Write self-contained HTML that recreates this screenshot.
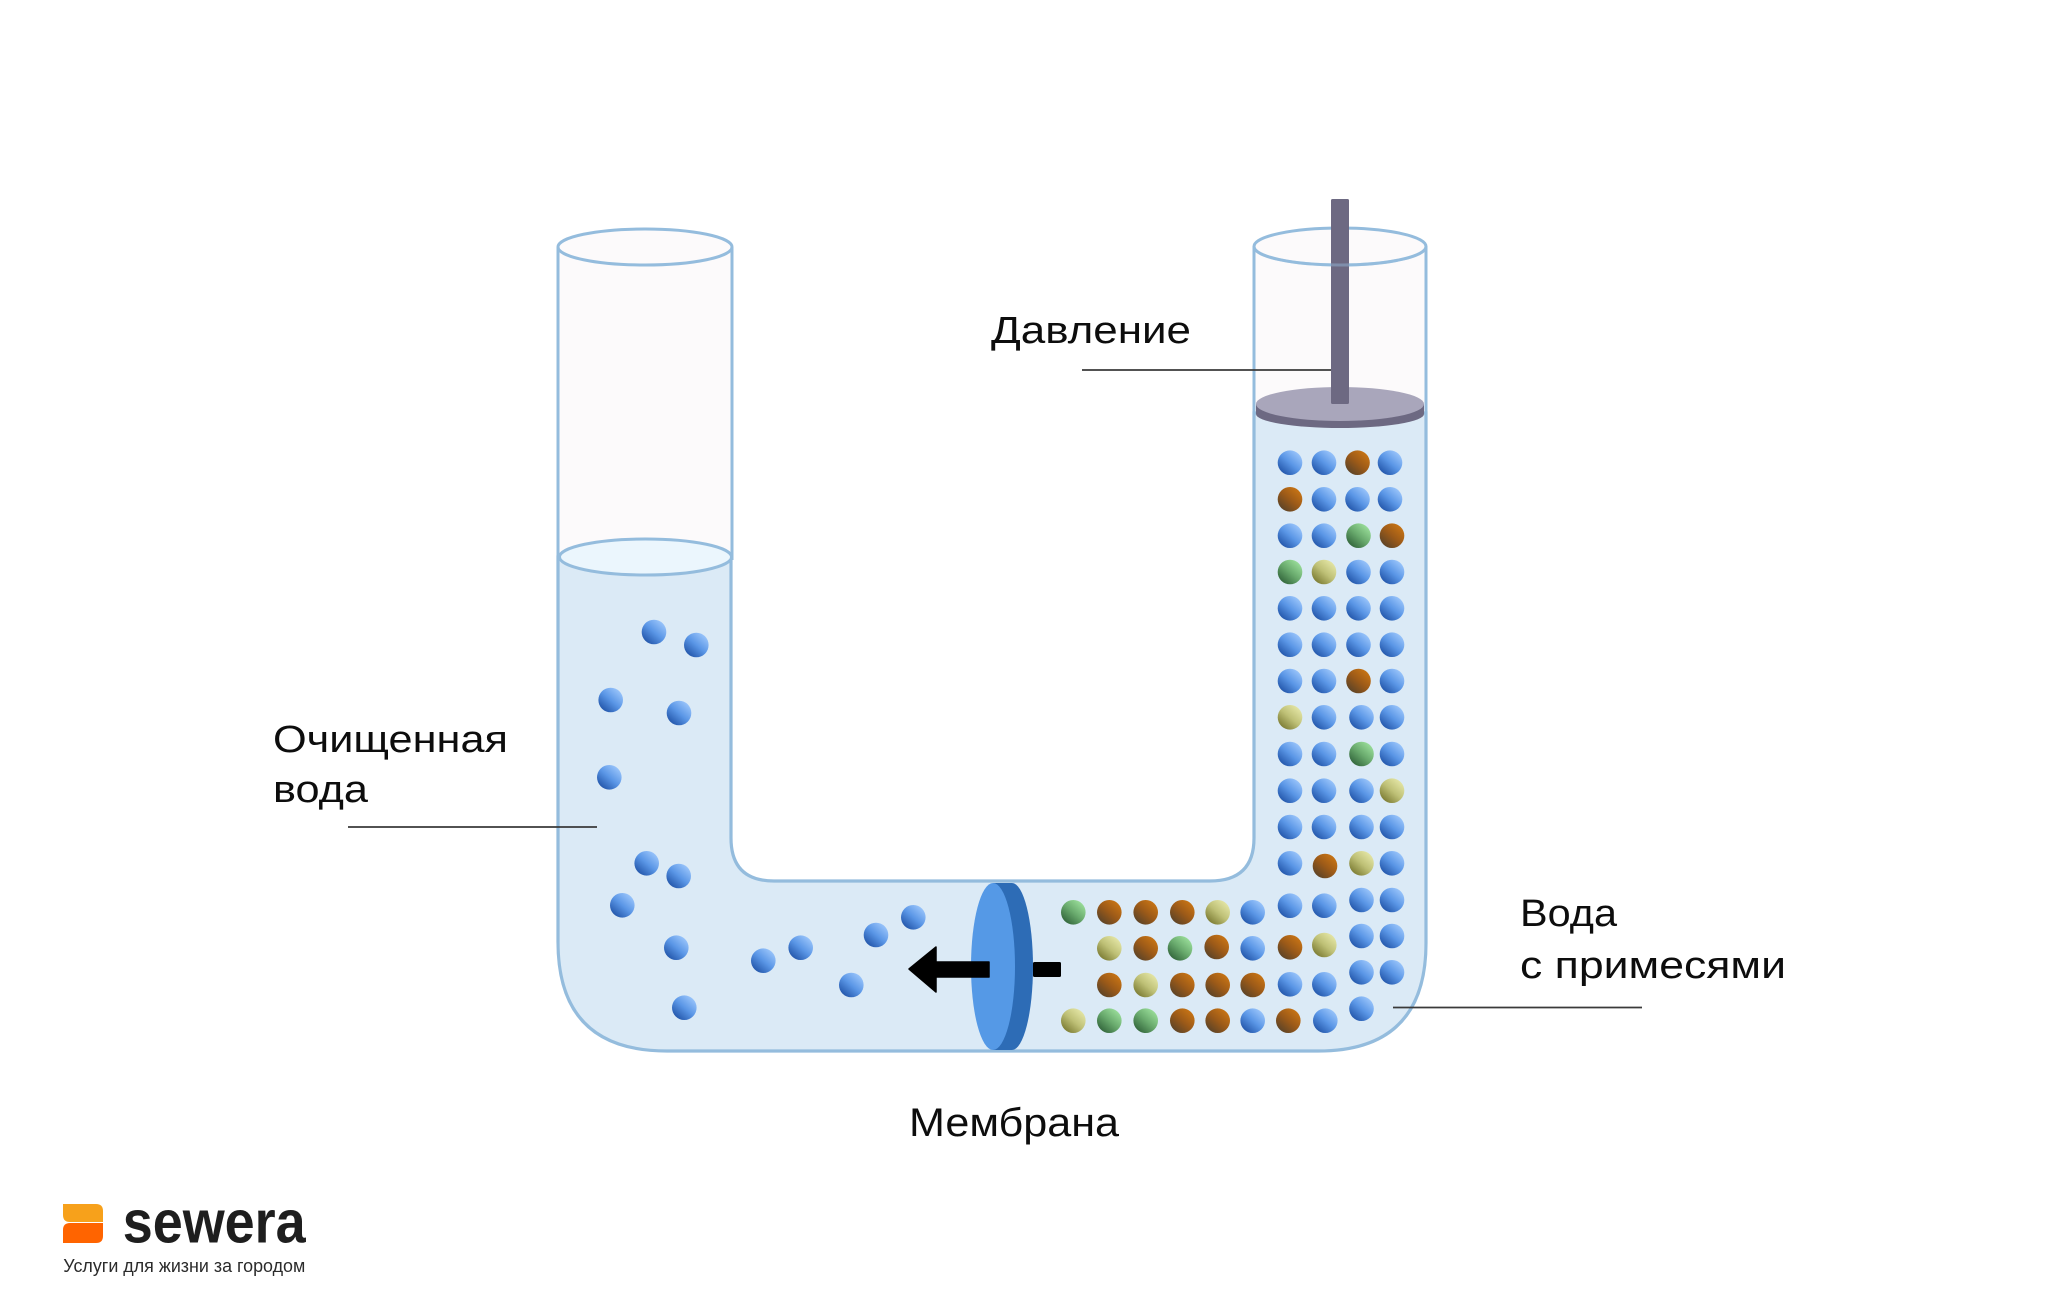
<!DOCTYPE html>
<html><head><meta charset="utf-8"><style>
html,body{margin:0;padding:0;background:#fff;}
svg{display:block;}
text{font-family:"Liberation Sans","DejaVu Sans",sans-serif;}
</style></head><body>
<svg width="2048" height="1316" viewBox="0 0 2048 1316" xmlns="http://www.w3.org/2000/svg">
<defs>
<linearGradient id="b" x1="0.85" y1="0.1" x2="0.15" y2="0.9"><stop offset="0" stop-color="#9ac5fb"/><stop offset="0.5" stop-color="#5a96e6"/><stop offset="1" stop-color="#2356aa"/></linearGradient>
<linearGradient id="o" x1="0.85" y1="0.1" x2="0.15" y2="0.9"><stop offset="0" stop-color="#c87414"/><stop offset="0.5" stop-color="#9c5a18"/><stop offset="1" stop-color="#5c4428"/></linearGradient>
<linearGradient id="g" x1="0.85" y1="0.1" x2="0.15" y2="0.9"><stop offset="0" stop-color="#9ade9a"/><stop offset="0.5" stop-color="#69aa6d"/><stop offset="1" stop-color="#33663c"/></linearGradient>
<linearGradient id="y" x1="0.85" y1="0.1" x2="0.15" y2="0.9"><stop offset="0" stop-color="#e4e6a6"/><stop offset="0.5" stop-color="#bec076"/><stop offset="1" stop-color="#7c7c34"/></linearGradient>
</defs>
<rect width="2048" height="1316" fill="#fff"/>

<!-- left tube dry part -->
<rect x="558" y="247" width="174" height="312" fill="#fcfafb"/>
<ellipse cx="645" cy="247" rx="87" ry="18" fill="#fcfafb" stroke="#94bcdd" stroke-width="3"/>
<line x1="558" y1="247" x2="558" y2="560" stroke="#94bcdd" stroke-width="3"/>
<line x1="732" y1="247" x2="732" y2="560" stroke="#94bcdd" stroke-width="3"/>

<!-- right tube dry part -->
<rect x="1254" y="246" width="172" height="170" fill="#fcfafb"/>
<ellipse cx="1340" cy="246.5" rx="86" ry="18.5" fill="#fcfafb" stroke="#94bcdd" stroke-width="3"/>
<line x1="1254" y1="246" x2="1254" y2="416" stroke="#94bcdd" stroke-width="3"/>
<line x1="1426" y1="246" x2="1426" y2="416" stroke="#94bcdd" stroke-width="3"/>

<!-- water U -->
<path d="M558 557 L558 942 Q558 1051 667 1051 L1318 1051 Q1426 1051 1426 943 L1426 413 L1254 413 L1254 838 Q1254 881 1210 881 L774 881 Q731 881 731 838 L731 557 Z" fill="#dbeaf6" stroke="#94bcdd" stroke-width="3.2"/>

<!-- left water surface -->
<ellipse cx="645.5" cy="557" rx="86" ry="18" fill="#ebf6fd" stroke="#94bcdd" stroke-width="3"/>

<!-- piston -->
<ellipse cx="1340" cy="414" rx="84" ry="14" fill="#6d6982"/>
<rect x="1256" y="404" width="168" height="10" fill="#6d6982"/>
<ellipse cx="1340" cy="404" rx="84" ry="17" fill="#a9a6bb"/>
<rect x="1331" y="199" width="18" height="205" rx="1.5" fill="#6d6982"/>
<path d="M1254 246.5 A86 18.5 0 0 0 1426 246.5" fill="none" stroke="#94bcdd" stroke-width="3" stroke-opacity="0.45"/>

<!-- membrane -->
<ellipse cx="1012" cy="966.5" rx="21" ry="83.5" fill="#2d6cb6"/>
<rect x="993" y="883" width="19" height="167" fill="#2d6cb6"/>
<ellipse cx="993" cy="966.5" rx="22" ry="83.5" fill="#5599e6"/>

<!-- arrow -->
<path d="M989 962 L936 962 L936 947 L909 969 L936 992 L936 977 L989 977 Z" fill="#000" stroke="#000" stroke-width="1.5" stroke-linejoin="round"/>
<rect x="1033" y="962" width="28" height="15" rx="1.5" fill="#000"/>

<!-- left balls -->
<g fill="url(#b)">
<circle cx="654" cy="632" r="12.3"/><circle cx="696.3" cy="645" r="12.3"/><circle cx="610.7" cy="700" r="12.3"/><circle cx="679" cy="713" r="12.3"/><circle cx="609.3" cy="777.3" r="12.3"/>
<circle cx="646.7" cy="863.3" r="12.3"/><circle cx="678.7" cy="876" r="12.3"/><circle cx="622.3" cy="905.3" r="12.3"/><circle cx="676.3" cy="947.7" r="12.3"/><circle cx="684.3" cy="1007.7" r="12.3"/>
<circle cx="763.3" cy="960.7" r="12.3"/><circle cx="800.7" cy="947.7" r="12.3"/><circle cx="876" cy="935" r="12.3"/><circle cx="913.3" cy="917.3" r="12.3"/><circle cx="851.3" cy="985" r="12.3"/>
</g>

<!-- right column -->
<g>
<circle cx="1290" cy="462.7" r="12.3" fill="url(#b)"/><circle cx="1324" cy="462.7" r="12.3" fill="url(#b)"/><circle cx="1357.5" cy="462.7" r="12.3" fill="url(#o)"/><circle cx="1390" cy="462.7" r="12.3" fill="url(#b)"/>
<circle cx="1290" cy="499.3" r="12.3" fill="url(#o)"/><circle cx="1324" cy="499.3" r="12.3" fill="url(#b)"/><circle cx="1357.5" cy="499.3" r="12.3" fill="url(#b)"/><circle cx="1390" cy="499.3" r="12.3" fill="url(#b)"/>
<circle cx="1290" cy="535.7" r="12.3" fill="url(#b)"/><circle cx="1324" cy="535.7" r="12.3" fill="url(#b)"/><circle cx="1358.5" cy="535.7" r="12.3" fill="url(#g)"/><circle cx="1392" cy="535.7" r="12.3" fill="url(#o)"/>
<circle cx="1290" cy="572" r="12.3" fill="url(#g)"/><circle cx="1324" cy="572" r="12.3" fill="url(#y)"/><circle cx="1358.5" cy="572" r="12.3" fill="url(#b)"/><circle cx="1392" cy="572" r="12.3" fill="url(#b)"/>
<circle cx="1290" cy="608.3" r="12.3" fill="url(#b)"/><circle cx="1324" cy="608.3" r="12.3" fill="url(#b)"/><circle cx="1358.5" cy="608.3" r="12.3" fill="url(#b)"/><circle cx="1392" cy="608.3" r="12.3" fill="url(#b)"/>
<circle cx="1290" cy="644.7" r="12.3" fill="url(#b)"/><circle cx="1324" cy="644.7" r="12.3" fill="url(#b)"/><circle cx="1358.5" cy="644.7" r="12.3" fill="url(#b)"/><circle cx="1392" cy="644.7" r="12.3" fill="url(#b)"/>
<circle cx="1290" cy="681" r="12.3" fill="url(#b)"/><circle cx="1324" cy="681" r="12.3" fill="url(#b)"/><circle cx="1358.5" cy="681" r="12.3" fill="url(#o)"/><circle cx="1392" cy="681" r="12.3" fill="url(#b)"/>
<circle cx="1290" cy="717.3" r="12.3" fill="url(#y)"/><circle cx="1324" cy="717.3" r="12.3" fill="url(#b)"/><circle cx="1361.5" cy="717.3" r="12.3" fill="url(#b)"/><circle cx="1392" cy="717.3" r="12.3" fill="url(#b)"/>
<circle cx="1290" cy="754" r="12.3" fill="url(#b)"/><circle cx="1324" cy="754" r="12.3" fill="url(#b)"/><circle cx="1361.5" cy="754" r="12.3" fill="url(#g)"/><circle cx="1392" cy="754" r="12.3" fill="url(#b)"/>
<circle cx="1290" cy="790.7" r="12.3" fill="url(#b)"/><circle cx="1324" cy="790.7" r="12.3" fill="url(#b)"/><circle cx="1361.5" cy="790.7" r="12.3" fill="url(#b)"/><circle cx="1392" cy="790.7" r="12.3" fill="url(#y)"/>
<circle cx="1290" cy="827" r="12.3" fill="url(#b)"/><circle cx="1324" cy="827" r="12.3" fill="url(#b)"/><circle cx="1361.5" cy="827" r="12.3" fill="url(#b)"/><circle cx="1392" cy="827" r="12.3" fill="url(#b)"/>
<circle cx="1290" cy="863.3" r="12.3" fill="url(#b)"/><circle cx="1325" cy="866" r="12.3" fill="url(#o)"/><circle cx="1361.5" cy="863.3" r="12.3" fill="url(#y)"/><circle cx="1392" cy="863.3" r="12.3" fill="url(#b)"/>
<circle cx="1361.5" cy="900" r="12.3" fill="url(#b)"/><circle cx="1392" cy="900" r="12.3" fill="url(#b)"/>
<circle cx="1361.5" cy="936" r="12.3" fill="url(#b)"/><circle cx="1392" cy="936" r="12.3" fill="url(#b)"/>
<circle cx="1361.5" cy="972.3" r="12.3" fill="url(#b)"/><circle cx="1392" cy="972.3" r="12.3" fill="url(#b)"/>
<circle cx="1361.5" cy="1008.7" r="12.3" fill="url(#b)"/>
</g>

<!-- horizontal rows -->
<g>
<circle cx="1073.3" cy="912.3" r="12.3" fill="url(#g)"/><circle cx="1109.3" cy="912.3" r="12.3" fill="url(#o)"/><circle cx="1145.7" cy="912.3" r="12.3" fill="url(#o)"/><circle cx="1182.3" cy="912.3" r="12.3" fill="url(#o)"/><circle cx="1217.7" cy="912.3" r="12.3" fill="url(#y)"/><circle cx="1252.7" cy="912.3" r="12.3" fill="url(#b)"/><circle cx="1290" cy="905.7" r="12.3" fill="url(#b)"/><circle cx="1324.3" cy="905.7" r="12.3" fill="url(#b)"/>
<circle cx="1109.3" cy="948.3" r="12.3" fill="url(#y)"/><circle cx="1145.7" cy="948.3" r="12.3" fill="url(#o)"/><circle cx="1180" cy="948.3" r="12.3" fill="url(#g)"/><circle cx="1216.7" cy="947" r="12.3" fill="url(#o)"/><circle cx="1252.7" cy="948.3" r="12.3" fill="url(#b)"/><circle cx="1290" cy="947.3" r="12.3" fill="url(#o)"/><circle cx="1324.3" cy="945" r="12.3" fill="url(#y)"/>
<circle cx="1109.3" cy="985" r="12.3" fill="url(#o)"/><circle cx="1145.7" cy="985" r="12.3" fill="url(#y)"/><circle cx="1182.3" cy="985" r="12.3" fill="url(#o)"/><circle cx="1217.7" cy="985" r="12.3" fill="url(#o)"/><circle cx="1252.7" cy="985" r="12.3" fill="url(#o)"/><circle cx="1290" cy="984.3" r="12.3" fill="url(#b)"/><circle cx="1324.3" cy="984.3" r="12.3" fill="url(#b)"/>
<circle cx="1073.3" cy="1020.7" r="12.3" fill="url(#y)"/><circle cx="1109.3" cy="1020.7" r="12.3" fill="url(#g)"/><circle cx="1145.7" cy="1020.7" r="12.3" fill="url(#g)"/><circle cx="1182.3" cy="1020.7" r="12.3" fill="url(#o)"/><circle cx="1217.7" cy="1020.7" r="12.3" fill="url(#o)"/><circle cx="1252.7" cy="1020.7" r="12.3" fill="url(#b)"/><circle cx="1288.3" cy="1020.7" r="12.3" fill="url(#o)"/><circle cx="1325.3" cy="1020.7" r="12.3" fill="url(#b)"/>
</g>

<!-- leader lines -->
<g stroke="#3a3a3a" stroke-width="1.7">
<line x1="1082" y1="370" x2="1331" y2="370"/>
<line x1="348" y1="827" x2="597" y2="827"/>
<line x1="1393" y1="1007.5" x2="1642" y2="1007.5"/>
</g>

<!-- labels -->
<g fill="#0d0d0d" font-size="38">
<text x="991" y="343" textLength="200" lengthAdjust="spacingAndGlyphs">Давление</text>
<text x="273" y="752" textLength="235" lengthAdjust="spacingAndGlyphs">Очищенная</text>
<text x="273" y="802" textLength="95" lengthAdjust="spacingAndGlyphs">вода</text>
<text x="1520" y="926" textLength="97" lengthAdjust="spacingAndGlyphs">Вода</text>
<text x="1520" y="978" textLength="266" lengthAdjust="spacingAndGlyphs">с примесями</text>
<text x="909" y="1136" font-size="40" textLength="210" lengthAdjust="spacingAndGlyphs">Мембрана</text>
</g>

<!-- logo -->
<path d="M63 1204 L96 1204 Q103 1204 103 1211 L103 1222 L70 1222 Q63 1222 63 1215 Z" fill="#f7a11b"/>
<path d="M70 1223 L103 1223 L103 1236 Q103 1243 96 1243 L63 1243 L63 1230 Q63 1223 70 1223 Z" fill="#ff6400"/>
<text x="122.7" y="1242.7" font-size="60" font-weight="bold" fill="#1e1e1e" textLength="183" lengthAdjust="spacingAndGlyphs">sewera</text>
<text x="63.3" y="1272" font-size="18" fill="#2b2b2b" textLength="242" lengthAdjust="spacingAndGlyphs">Услуги для жизни за городом</text>
</svg>
</body></html>
